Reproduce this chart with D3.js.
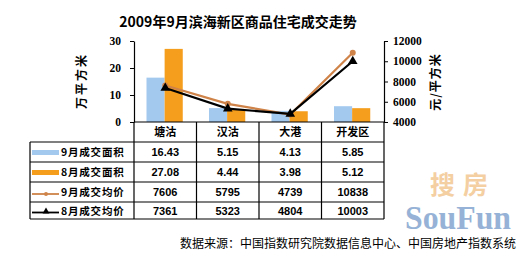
<!DOCTYPE html>
<html>
<head>
<meta charset="utf-8">
<script src="https://cdn.jsdelivr.net/npm/d3@7/dist/d3.min.js"></script>
<style>
  body { margin: 0; background: #fff; }
  svg { display: block; }
  .cjk { font-family: "Noto Sans CJK SC", sans-serif; font-weight: bold; }
  .num { font-family: "Liberation Sans", Arial, sans-serif; font-weight: bold; }
</style>
</head>
<body>
<svg id="chart" width="523" height="259"></svg>
<script>
// ---------- datos ----------
var categorias = ["塘沽", "汉沽", "大港", "开发区"];
var area9 = [16.43, 5.15, 4.13, 5.85];
var area8 = [27.08, 4.44, 3.98, 5.12];
var precio9 = [7606, 5795, 4739, 10838];
var precio8 = [7361, 5323, 4804, 10003];
var ticksIzq = [0, 10, 20, 30];
var ticksDer = [4000, 6000, 8000, 10000, 12000];
var nombresSerie = ["9月成交面积", "8月成交面积", "9月成交均价", "8月成交均价"];

var azul = "#a3c9ef", naranja = "#f59d1c", marron = "#cf8348", negro = "#000";

var svg = d3.select("#chart");

// ---------- escalas ----------
var x0 = d3.scaleBand().domain(categorias).range([134, 384]);
var x1 = d3.scaleBand().domain([0, 1]).range([x0.bandwidth() * 0.2, x0.bandwidth() * 0.78]);
var yArea = d3.scaleLinear().domain([0, 30]).range([122, 41]);
var yPrecio = d3.scaleLinear().domain([4000, 12000]).range([122, 41]);

// titulo
svg.append("text").attr("class", "cjk")
  .attr("x", 238).attr("y", 27).attr("text-anchor", "middle")
  .style("font-size", "14px").text("2009年9月滨海新区商品住宅成交走势");

// ---------- barras ----------
var series = [area9, area8];
var colores = [azul, naranja];
series.forEach(function(s, k) {
  svg.append("g").selectAll("rect")
    .data(s).enter().append("rect")
      .attr("x", function(d, i) { return x0(categorias[i]) + x1(k); })
      .attr("width", x1.bandwidth())
      .attr("y", function(d) { return yArea(d); })
      .attr("height", function(d) { return yArea(0) - yArea(d); })
      .attr("fill", colores[k]);
});

// ---------- lineas ----------
var cx = function(d, i) { return x0(categorias[i]) + x0.bandwidth() / 2; };
var linea = d3.line().x(cx).y(function(d) { return yPrecio(d); });

svg.append("path").datum(precio9)
  .attr("d", linea).attr("fill", "none")
  .attr("stroke", marron).attr("stroke-width", 2.2);
svg.append("g").selectAll("circle").data(precio9).enter().append("circle")
  .attr("cx", cx).attr("cy", function(d) { return yPrecio(d); })
  .attr("r", 3).attr("fill", marron);

svg.append("path").datum(precio8)
  .attr("d", linea).attr("fill", "none")
  .attr("stroke", negro).attr("stroke-width", 2.2);
var tri = d3.symbol().type(d3.symbolTriangle).size(40);
svg.append("g").selectAll("path").data(precio8).enter().append("path")
  .attr("d", tri)
  .attr("transform", function(d, i) { return "translate(" + cx(d, i) + "," + yPrecio(d) + ")"; })
  .attr("fill", negro);

// ---------- ejes ----------
var ejeIzq = svg.append("g").attr("transform", "translate(134,0)")
  .call(d3.axisLeft(yArea).tickValues(ticksIzq).tickSize(4).tickSizeOuter(0).tickFormat(d3.format("d")));
var ejeDer = svg.append("g").attr("transform", "translate(384,0)")
  .call(d3.axisRight(yPrecio).tickValues(ticksDer).tickSize(4).tickSizeOuter(0).tickFormat(d3.format("d")));
[ejeIzq, ejeDer].forEach(function(g) {
  g.select(".domain").attr("stroke", "#000").attr("stroke-width", 1.2);
  g.selectAll("text")
    .style("font-family", "'Liberation Serif', serif").style("font-weight", "bold")
    .style("font-size", "11.5px").attr("fill", "#000");
});
ejeIzq.selectAll("text").attr("x", -13);
ejeDer.selectAll("text").attr("x", 9);

svg.append("text").attr("class", "cjk")
  .attr("transform", "translate(86,81) rotate(-90)").attr("text-anchor", "middle")
  .style("font-size", "12px").style("letter-spacing", "2px").text("万平方米");
svg.append("text").attr("class", "cjk")
  .attr("transform", "translate(440,82) rotate(-90)").attr("text-anchor", "middle")
  .style("font-size", "12px").style("letter-spacing", "1px").text("元/平方米");

// ---------- tabla ----------
var filas = [122, 142, 162, 182, 202, 219];
var cols = [134].concat(categorias.map(function(c) { return x0(c) + x0.bandwidth(); }));
var tabla = svg.append("g").attr("stroke", "#000").attr("stroke-width", 1.2);
// horizontales
filas.forEach(function(y, j) {
  tabla.append("line").attr("x1", j === 0 ? 134 : 30).attr("x2", 384)
    .attr("y1", y).attr("y2", y);
});
// verticales
cols.forEach(function(x) {
  tabla.append("line").attr("x1", x).attr("x2", x).attr("y1", 122).attr("y2", 219);
});
tabla.append("line").attr("x1", 30).attr("x2", 30).attr("y1", 142).attr("y2", 219);

// cabecera
svg.append("g").selectAll("text").data(categorias).enter().append("text")
  .attr("class", "cjk")
  .attr("x", function(d) { return x0(d) + x0.bandwidth() / 2; })
  .attr("y", 136).attr("text-anchor", "middle")
  .style("font-size", "11px").text(function(d) { return d; });

var valores = [area9, area8, precio9, precio8];
valores.forEach(function(s, k) {
  var yy = (filas[k + 1] + filas[k + 2]) / 2 + 4;
  svg.append("g").selectAll("text").data(s).enter().append("text")
    .attr("class", "num")
    .attr("x", function(d, i) { return x0(categorias[i]) + x0.bandwidth() / 2; })
    .attr("y", yy).attr("text-anchor", "middle")
    .style("font-size", "11px")
    .text(function(d) { return k < 2 ? d3.format(".2f")(d) : d; });

  // leyenda
  var my = (filas[k + 1] + filas[k + 2]) / 2;
  if (k < 2) {
    svg.append("rect").attr("x", 32).attr("y", my - 2).attr("width", 27).attr("height", 5)
      .attr("fill", colores[k]);
  } else {
    var col = k === 2 ? marron : negro;
    svg.append("line").attr("x1", 32).attr("x2", 59).attr("y1", my + 2).attr("y2", my + 2)
      .attr("stroke", col).attr("stroke-width", 1.8);
    if (k === 2) {
      svg.append("circle").attr("cx", 46).attr("cy", my + 2).attr("r", 2).attr("fill", col);
    } else {
      svg.append("path").attr("d", d3.symbol().type(d3.symbolTriangle).size(20))
        .attr("transform", "translate(46," + (my + 1) + ")").attr("fill", col);
    }
  }
  svg.append("text").attr("class", "cjk")
    .attr("x", 61).attr("y", my + 4)
    .style("font-size", "10.5px").style("letter-spacing", "0.8px")
    .text(nombresSerie[k]);
});

// marca de agua
svg.append("text").attr("x", 430).attr("y", 194)
  .style("font-family", "'Noto Sans CJK SC', sans-serif").style("font-weight", "bold")
  .style("font-size", "25px")
  .attr("fill", "#f2c48a").attr("opacity", 0.8).style("letter-spacing", "8px").text("搜房");
svg.append("text").attr("x", 405).attr("y", 229)
  .attr("textLength", 106).attr("lengthAdjust", "spacingAndGlyphs")
  .style("font-family", "'Liberation Serif', serif").style("font-weight", "bold")
  .style("font-size", "34px").attr("fill", "#7d9fcc").attr("opacity", 0.8).text("SouFun");

// fuente
svg.append("text").attr("x", 516).attr("y", 248).attr("text-anchor", "end")
  .style("font-family", "'Noto Sans CJK SC', sans-serif").style("font-size", "12px")
  .text("数据来源：中国指数研究院数据信息中心、中国房地产指数系统");
</script>
</body>
</html>
